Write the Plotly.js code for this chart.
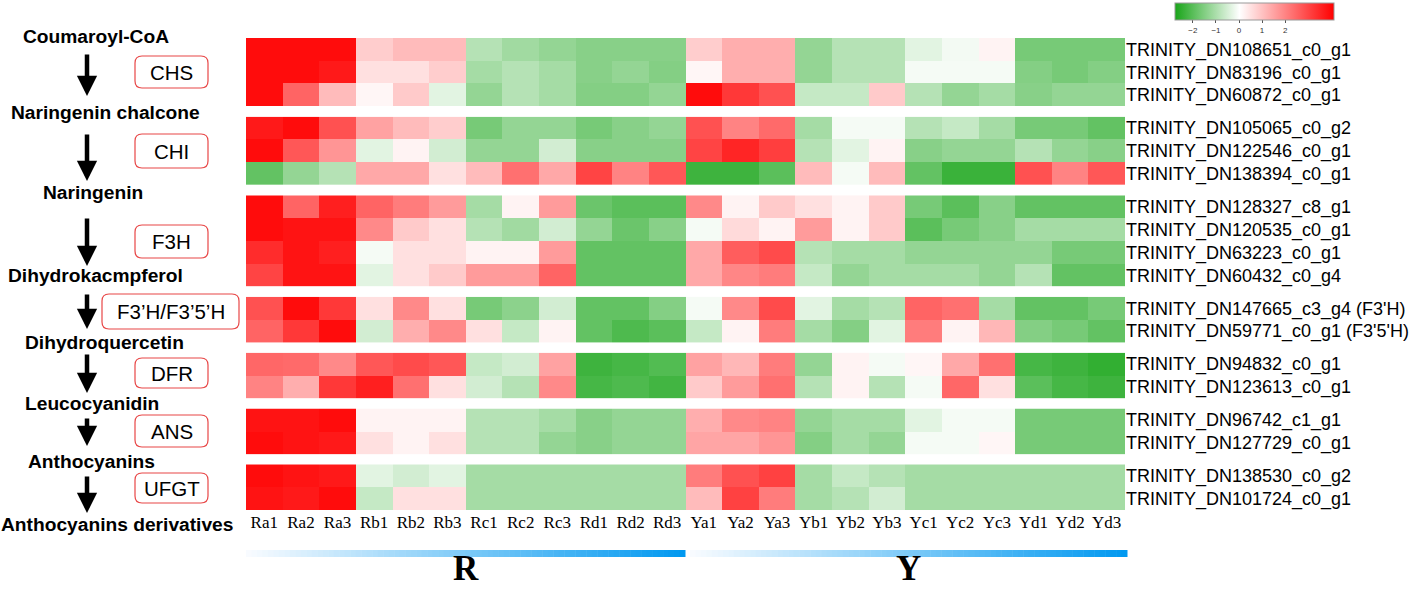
<!DOCTYPE html>
<html>
<head>
<meta charset="utf-8">
<script src="https://cdn.plot.ly/plotly-3.0.1.min.js"></script>
<style>html,body{margin:0;padding:0;background:#fff}</style>
</head>
<body>
<div id="chart" style="width:1416px;height:591px"></div>
<script>
// samples (columns)
let samples = ["Ra1","Ra2","Ra3","Rb1","Rb2","Rb3","Rc1","Rc2","Rc3","Rd1","Rd2","Rd3",
               "Ya1","Ya2","Ya3","Yb1","Yb2","Yb3","Yc1","Yc2","Yc3","Yd1","Yd2","Yd3"];

let compounds = ["Coumaroyl-CoA","Naringenin chalcone","Naringenin","Dihydrokacmpferol",
                 "Dihydroquercetin","Leucocyanidin","Anthocyanins","Anthocyanins derivatives"];
let enzymes = ["CHS","CHI","F3H","F3\u2019H/F3\u20195\u2019H","DFR","ANS","UFGT"];

let chsGenes = ["TRINITY_DN108651_c0_g1","TRINITY_DN83196_c0_g1","TRINITY_DN60872_c0_g1"];
let chsValues = [
  [3.9,3.9,3.9,0.8,1.1,1.1,-0.9,-1.15,-1.3,-1.45,-1.45,-1.45,0.8,1.3,1.3,-1.3,-0.9,-0.9,-0.35,-0.15,0.2,-1.65,-1.65,-1.65],
  [3.9,3.9,3.7,0.5,0.5,0.8,-1.1,-0.9,-1.1,-1.45,-1.3,-1.5,0.15,1.3,1.3,-1.3,-0.9,-0.9,-0.12,-0.12,-0.12,-1.5,-1.65,-1.5],
  [3.9,2.5,1.1,0.15,0.85,-0.35,-1.3,-0.9,-1.1,-1.5,-1.5,-1.3,3.9,3.2,2.8,-0.7,-0.7,0.85,-0.9,-1.3,-1.1,-1.45,-1.3,-1.3]
];

let chiGenes = ["TRINITY_DN105065_c0_g2","TRINITY_DN122546_c0_g1","TRINITY_DN138394_c0_g1"];
let chiValues = [
  [3.7,3.9,2.8,1.5,1.1,0.8,-1.65,-1.3,-1.3,-1.65,-1.45,-1.3,2.8,2.0,2.4,-1.1,-0.12,-0.12,-0.9,-0.7,-1.1,-1.65,-1.65,-1.9],
  [3.9,2.7,1.7,-0.35,0.2,-0.55,-1.3,-1.3,-0.55,-1.45,-1.45,-1.45,3.0,3.5,3.1,-0.9,-0.35,0.2,-1.45,-1.3,-1.3,-0.9,-1.3,-1.45],
  [-1.9,-1.3,-0.9,1.4,1.4,0.5,1.1,2.3,1.4,3.0,2.0,2.7,-2.35,-2.35,-2.0,1.1,-0.12,1.1,-1.9,-2.4,-2.4,2.8,2.0,2.7]
];

let f3hGenes = ["TRINITY_DN128327_c8_g1","TRINITY_DN120535_c0_g1","TRINITY_DN63223_c0_g1","TRINITY_DN60432_c0_g4"];
let f3hValues = [
  [3.9,2.5,3.6,2.5,2.1,1.6,-1.1,0.2,1.6,-1.8,-2.0,-2.0,1.9,0.2,0.85,0.5,0.2,0.85,-1.65,-2.0,-1.45,-1.9,-1.9,-1.9],
  [3.9,3.8,3.8,1.9,0.85,0.5,-0.9,-1.15,-0.55,-1.3,-1.8,-1.45,-0.12,0.6,0.2,1.6,0.2,0.85,-2.0,-1.65,-1.45,-1.1,-1.1,-1.1],
  [3.4,3.8,3.6,-0.12,0.5,0.5,0.2,0.2,1.6,-1.9,-1.9,-1.9,1.4,2.6,2.9,-0.9,-1.1,-1.1,-1.3,-1.3,-1.3,-1.3,-1.65,-1.65],
  [3.0,3.8,3.8,-0.35,0.5,0.85,1.6,1.6,2.5,-1.9,-1.9,-1.9,1.4,1.95,2.1,-0.7,-1.3,-1.1,-1.1,-1.1,-1.3,-0.9,-1.9,-1.9]
];

let f35hGenes = ["TRINITY_DN147665_c3_g4 (F3'H)","TRINITY_DN59771_c0_g1 (F3'5'H)"];
let f35hValues = [
  [2.8,3.9,3.2,0.5,1.9,0.5,-1.65,-1.4,-0.55,-1.9,-1.9,-1.5,-0.12,1.9,2.9,-0.35,-1.1,-0.9,2.5,2.3,-1.1,-1.9,-1.9,-1.65],
  [2.5,3.2,3.9,-0.55,1.3,1.9,0.5,-0.7,0.2,-1.9,-2.15,-2.0,-0.7,0.2,2.1,-1.1,-1.5,-0.35,2.1,0.2,1.15,-1.5,-1.65,-1.9]
];

let dfrGenes = ["TRINITY_DN94832_c0_g1","TRINITY_DN123613_c0_g1"];
let dfrValues = [
  [2.45,2.4,1.9,2.7,2.9,2.7,-0.7,-0.55,1.5,-2.35,-2.25,-2.1,1.5,1.15,2.1,-1.3,0.2,-0.12,0.15,1.4,2.3,-2.25,-2.35,-2.5],
  [2.0,1.3,3.2,3.6,2.3,0.5,-0.55,-0.9,1.9,-2.25,-2.15,-2.3,0.85,1.6,2.3,-0.9,0.2,-0.9,-0.12,2.45,0.5,-2.0,-2.25,-2.35]
];

let ansGenes = ["TRINITY_DN96742_c1_g1","TRINITY_DN127729_c0_g1"];
let ansValues = [
  [3.8,3.8,3.9,0.2,0.2,0.2,-0.9,-0.9,-1.1,-1.45,-1.3,-1.3,1.3,1.9,2.0,-1.3,-1.1,-1.1,-0.35,-0.12,-0.12,-1.65,-1.65,-1.65],
  [3.9,3.8,3.7,0.5,0.2,0.5,-0.9,-0.9,-1.3,-1.45,-1.3,-1.3,1.45,1.45,1.7,-1.5,-1.1,-1.3,-0.12,-0.12,0.15,-1.65,-1.65,-1.65]
];

let ufgtGenes = ["TRINITY_DN138530_c0_g2","TRINITY_DN101724_c0_g1"];
let ufgtValues = [
  [3.9,3.8,3.7,-0.35,-0.55,-0.35,-1.1,-1.1,-1.1,-1.1,-1.1,-1.1,2.1,2.8,3.05,-1.1,-0.7,-0.9,-1.1,-1.1,-1.1,-1.1,-1.1,-1.1],
  [3.8,3.7,3.9,-0.7,0.5,0.5,-1.1,-1.1,-1.1,-1.1,-1.1,-1.1,1.1,3.05,2.1,-1.1,-0.9,-0.55,-1.1,-1.1,-1.1,-1.1,-1.1,-1.1]
];

let groupNames = ["R","Y"];

// ---- layout helpers (page pixels -> paper) ----
const W = 1416, H = 591;
const L = 246, R = 1125, T = 38, B = 510;
function px(x) { return (x - L) / (R - L); }
function py(y) { return (B - y) / (B - T); }

const sans = "Liberation Sans, Arial, sans-serif";
const serif = "Liberation Serif, Times New Roman, serif";

let blockGenes = [chsGenes, chiGenes, f3hGenes, f35hGenes, dfrGenes, ansGenes, ufgtGenes];
let blockValues = [chsValues, chiValues, f3hValues, f35hValues, dfrValues, ansValues, ufgtValues];

const zmin = -2.8, zmax = 4.1;
const zero = -zmin / (zmax - zmin);
const scale = [[0, "rgb(25,165,25)"], [zero, "rgb(255,255,255)"], [1, "rgb(255,0,0)"]];

let nRows = blockGenes.reduce((s, g) => s + g.length, 0);
let gapPx = 10.2;
let rowPx = ((B - T) - gapPx * (blockGenes.length - 1)) / nRows;

let data = [];
let layout = {
  width: W, height: H,
  margin: {l: L, r: W - R, t: T, b: H - B, autoexpand: false},
  paper_bgcolor: "white", plot_bgcolor: "white",
  showlegend: false,
  xaxis: {
    anchor: "y" + blockGenes.length,
    showgrid: false, zeroline: false, ticks: "", showline: false,
    tickfont: {family: serif, size: 17, color: "black"},
    tickangle: 0
  },
  shapes: [],
  annotations: []
};

let cursor = 0;
blockGenes.forEach(function (genes, i) {
  let top = cursor, bot = cursor + genes.length * rowPx;
  cursor = bot + gapPx;
  let yname = i == 0 ? "y" : "y" + (i + 1);
  let ykey = i == 0 ? "yaxis" : "yaxis" + (i + 1);
  layout[ykey] = {
    domain: [1 - bot / (B - T), 1 - top / (B - T)],
    anchor: "x", side: "right",
    autorange: "reversed",
    showgrid: false, zeroline: false, ticks: "", showline: false,
    tickfont: {family: sans, size: 18, color: "black"}
  };
  let trace = {
    type: "heatmap",
    x: samples, y: genes, z: blockValues[i],
    xaxis: "x", yaxis: yname,
    zmin: zmin, zmax: zmax, colorscale: scale,
    showscale: i == 0, hoverinfo: "x+y+z"
  };
  if (i == 0) {
    trace.colorbar = {
      orientation: "h", lenmode: "pixels", len: 159, thickness: 17,
      x: px(1254), xanchor: "center", y: py(3), yanchor: "top",
      xpad: 0, ypad: 0, outlinewidth: 1, outlinecolor: "#999",
      tickvals: [-2, -1, 0, 1, 2], ticks: "outside", ticklen: 3, tickcolor: "#555",
      tickfont: {family: sans, size: 8, color: "#333"}
    };
  }
  data.push(trace);
});

// pathway: compound names
let compoundPos = [[96, 36], [105, 112], [93, 192], [95, 275], [104, 342], [92, 404], [91, 461], [117, 524]];
compounds.forEach(function (c, i) {
  layout.annotations.push({
    xref: "paper", yref: "paper", x: px(compoundPos[i][0]), y: py(compoundPos[i][1]),
    text: "<b>" + c + "</b>", showarrow: false, xanchor: "center", yanchor: "middle",
    font: {family: sans, size: 19.2, color: "black"}
  });
});

// arrows between compounds
let arrowSpan = [[53, 96], [133, 181], [217, 266], [293, 329], [353, 393], [417, 446], [475, 513]];
arrowSpan.forEach(function (a) {
  layout.annotations.push({
    xref: "paper", yref: "paper", x: px(87), y: py(a[1]),
    ax: 0, ay: -(a[1] - a[0]), text: "", showarrow: true,
    arrowhead: 2, arrowsize: 0.9, arrowwidth: 4.5, arrowcolor: "black"
  });
});

// enzyme boxes
function rr(x0, y0, x1, y1, r) {
  let p = (x, y) => px(x) + "," + py(y);
  return "M" + p(x0 + r, y0) + " L" + p(x1 - r, y0) + " Q" + p(x1, y0) + " " + p(x1, y0 + r) +
         " L" + p(x1, y1 - r) + " Q" + p(x1, y1) + " " + p(x1 - r, y1) +
         " L" + p(x0 + r, y1) + " Q" + p(x0, y1) + " " + p(x0, y1 - r) +
         " L" + p(x0, y0 + r) + " Q" + p(x0, y0) + " " + p(x0 + r, y0) + " Z";
}
let boxPos = [[135, 56, 208, 88], [135, 134, 208, 168], [135, 225, 208, 258], [102, 294, 239, 329],
              [135, 358, 208, 388], [135, 415, 208, 447], [135, 473, 208, 503]];
enzymes.forEach(function (e, i) {
  let b = boxPos[i];
  layout.shapes.push({
    type: "path", xref: "paper", yref: "paper", path: rr(b[0], b[1], b[2], b[3], 7),
    line: {color: "rgb(232,70,70)", width: 1.2}, fillcolor: "white"
  });
  layout.annotations.push({
    xref: "paper", yref: "paper", x: px((b[0] + b[2]) / 2), y: py((b[1] + b[3]) / 2),
    text: e, showarrow: false, xanchor: "center", yanchor: "middle",
    font: {family: sans, size: 20.5, color: "black"}
  });
});

// group bars with blue gradient + group letters
let groupSpan = [[246, 685], [690, 1127]];
let nSeg = 80;
groupSpan.forEach(function (g, gi) {
  for (let k = 0; k < nSeg; k++) {
    let t = (k + 0.5) / nSeg;
    let col = "rgb(" + Math.round(250 - 250 * t) + "," + Math.round(252 - 100 * t) + "," +
              Math.round(255 - 15 * t) + ")";
    layout.shapes.push({
      type: "rect", xref: "paper", yref: "paper",
      x0: px(g[0] + (g[1] - g[0]) * k / nSeg), x1: px(g[0] + (g[1] - g[0]) * (k + 1) / nSeg + 0.5),
      y0: py(557), y1: py(550), fillcolor: col, line: {width: 0}
    });
  }
  layout.annotations.push({
    xref: "paper", yref: "paper", x: px((g[0] + g[1]) / 2), y: py(590),
    text: "<b>" + groupNames[gi] + "</b>", showarrow: false, xanchor: "center", yanchor: "bottom",
    font: {family: serif, size: 35, color: "black"}
  });
});

Plotly.newPlot("chart", data, layout, {displayModeBar: false, staticPlot: true});
</script>
</body>
</html>
